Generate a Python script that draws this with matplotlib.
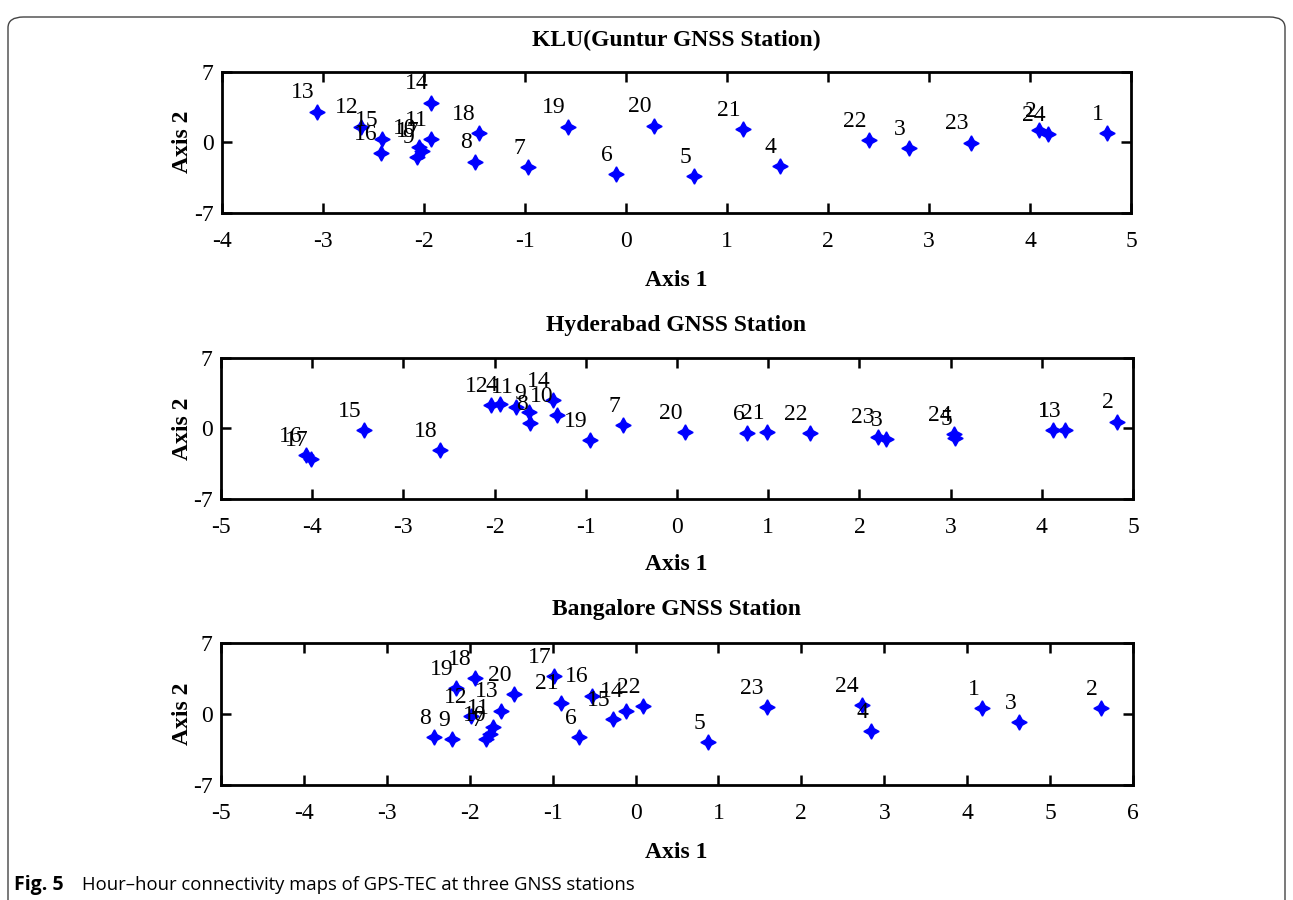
import matplotlib.pyplot as plt
from matplotlib.patches import FancyBboxPatch

plt.rcParams['font.family'] = ['Liberation Serif', 'DejaVu Serif']
plt.rcParams['axes.unicode_minus'] = False

# KLU (Guntur) station
klu_labels = ['1', '2', '3', '4', '5', '6', '7', '8', '9', '10', '11', '12',
              '13', '14', '15', '16', '17', '18', '19', '20', '21', '22', '23', '24']
klu_x = [4.76, 4.09, 2.80, 1.52, 0.67, -0.10, -0.97, -1.50, -2.07, -2.05, -1.93, -2.62,
         -3.06, -1.93, -2.42, -2.43, -2.02, -1.46, -0.57, 0.28, 1.16, 2.41, 3.42, 4.18]
klu_y = [0.88, 1.21, -0.60, -2.36, -3.36, -3.16, -2.50, -1.94, -1.44, -0.50, 0.29, 1.54,
         3.03, 3.92, 0.29, -1.10, -0.85, 0.88, 1.54, 1.64, 1.28, 0.22, -0.05, 0.81]

# Hyderabad station
hyd_labels = ['1', '2', '3', '4', '5', '6', '7', '8', '9', '10', '11', '12',
              '13', '14', '15', '16', '17', '18', '19', '20', '21', '22', '23', '24']
hyd_x = [4.12, 4.82, 2.29, -1.94, 3.05, 0.77, -0.59, -1.61, -1.62, -1.32, -1.76, -2.04,
         4.25, -1.36, -3.43, -4.07, -4.01, -2.60, -0.95, 0.09, 0.99, 1.46, 2.20, 3.04]
hyd_y = [-0.17, 0.65, -1.06, 2.37, -0.95, -0.50, 0.33, 0.50, 1.60, 1.30, 2.14, 2.29,
         -0.17, 2.80, -0.17, -2.64, -3.04, -2.15, -1.16, -0.40, -0.40, -0.50, -0.83, -0.60]

# Bangalore station
blr_labels = ['1', '2', '3', '4', '5', '6', '7', '8', '9', '10', '11', '12',
              '13', '14', '15', '16', '17', '18', '19', '20', '21', '22', '23', '24']
blr_x = [4.18, 5.61, 4.63, 2.84, 0.87, -0.68, -1.80, -2.43, -2.21, -1.76, -1.72, -1.99,
         -1.62, -0.11, -0.27, -0.53, -0.98, -1.94, -2.16, -1.46, -0.90, 0.09, 1.58, 2.73]
blr_y = [0.56, 0.56, -0.76, -1.65, -2.80, -2.30, -2.47, -2.30, -2.47, -1.98, -1.31, -0.17,
         0.33, 0.33, -0.49, 1.81, 3.78, 3.53, 2.54, 1.98, 1.15, 0.82, 0.72, 0.89]

panels = [
    ('KLU(Guntur GNSS Station)', klu_labels, klu_x, klu_y, (-4, 5)),
    ('Hyderabad GNSS Station', hyd_labels, hyd_x, hyd_y, (-5, 5)),
    ('Bangalore GNSS Station', blr_labels, blr_x, blr_y, (-5, 6)),
]

W, H = 1293, 900
fig = plt.figure(figsize=(W / 100, H / 100), dpi=100)

# journal frame with rounded top corners
frame = FancyBboxPatch((8 / W, -0.05), (W - 16) / W, 1.04 - 8 / H,
                       boxstyle='round,pad=0,rounding_size=0.012',
                       transform=fig.transFigure, fill=False,
                       edgecolor='#444444', linewidth=1.0)
fig.patches.append(frame)

# axes boxes: (left, right, top, bottom) in pixels
boxes = [(222, 1131, 71.7, 212.7), (221, 1133, 357.7, 499), (221, 1133, 643.3, 785)]
title_y = [40, 326, 610]
xlabel_y = [280, 565, 852]

for (title, labels, xs, ys, xlim), (l, r, t, b), ty, xy in zip(panels, boxes, title_y, xlabel_y):
    ax = fig.add_axes([l / W, 1 - b / H, (r - l) / W, (b - t) / H])
    ax.plot(xs, ys, linestyle='none', marker=(4, 1, 0), markersize=11,
            color='#0000ff', markeredgecolor='#0000ff')
    for lab, x, y in zip(labels, xs, ys):
        ax.annotate(lab, (x, y), xytext=(-2, 6), textcoords='offset points',
                    ha='right', va='bottom', fontsize=17, color='black')
    ax.set_xlim(*xlim)
    ax.set_ylim(-7, 7)
    ax.set_xticks(range(xlim[0], xlim[1] + 1))
    ax.set_yticks([-7, 0, 7])
    ax.tick_params(direction='in', top=True, right=True, length=7, width=1.8,
                   labelsize=17, pad=13)
    ax.tick_params(axis='y', pad=6)
    for s in ax.spines.values():
        s.set_linewidth(2.0)
    fig.text(676 / W, 1 - ty / H, title, ha='center', va='center',
             fontsize=17, fontweight='bold')
    fig.text(676 / W, 1 - xy / H, 'Axis 1', ha='center', va='center',
             fontsize=17, fontweight='bold')
    fig.text(183 / W, 1 - (t + b) / 2 / H, 'Axis 2', ha='center', va='center',
             rotation=90, fontsize=17, fontweight='bold')

fig.text(14 / W, 1 - 885 / H, 'Fig. 5', ha='left', va='center', fontsize=14,
         fontweight='bold', family=['Open Sans', 'DejaVu Sans'])
fig.text(82 / W, 1 - 885 / H, 'Hour\u2013hour connectivity maps of GPS-TEC at three GNSS stations',
         ha='left', va='center', fontsize=13.3, family=['Open Sans', 'DejaVu Sans'])

fig.savefig('out.png', dpi=100)
